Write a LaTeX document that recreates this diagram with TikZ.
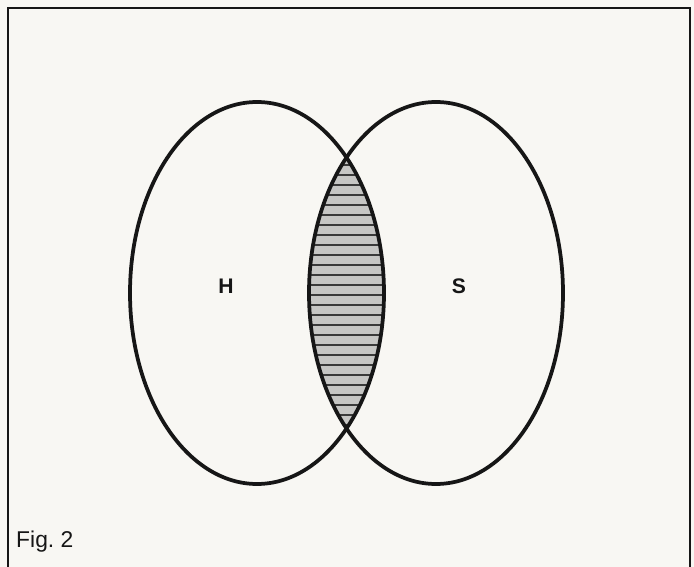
\documentclass[tikz,border=0pt]{standalone}
\usepackage{fontspec}
\setsansfont{Liberation Sans}
\usetikzlibrary{positioning}
\definecolor{paperTint}{HTML}{F8F7F3}
\definecolor{vennInk}{HTML}{161616}
\definecolor{lensFill}{HTML}{C6C6C4}
\definecolor{hatchInk}{HTML}{3A3A3A}
\tikzset{
  every node/.style={font=\sffamily, text=vennInk},
  setline/.style={draw=vennInk, line width=3.2pt},
  framing/.style={draw=vennInk, line width=1.7pt},
  setlabel/.style={font=\sffamily\bfseries\fontsize{18}{20}\selectfont},
  caption/.style={font=\sffamily\fontsize{19.5}{22}\selectfont, anchor=base west, inner sep=0pt},
  hatch/.style={draw=hatchInk, line width=0.9pt}
}

\begin{document}
\begin{tikzpicture}[x=0.03cm,y=-0.03cm]
  \useasboundingbox (0,0) rectangle (694,567);
  \fill[paperTint] (0,0) rectangle (694,567);
  \begin{scope}
    \clip (0,0) rectangle (694,567);
    \draw[framing] (8,8) rectangle (690,580);
  \end{scope}

  % shaded intersection
  \begin{scope}
    \clip (257,293) ellipse [x radius=127, y radius=191];
    \clip (436,293) ellipse [x radius=127, y radius=191];
    \fill[lensFill] (300,100) rectangle (400,480);
    \foreach \y in {165,175,...,425} {
      \draw[hatch] (300,\y) -- (400,\y);
    }
  \end{scope}

  \draw[setline] (257,293) ellipse [x radius=127, y radius=191];
  \draw[setline] (436,293) ellipse [x radius=127, y radius=191];

  \node[setlabel] (h) at (226,286) {H};
  \node[setlabel] (s) at (459,286) {S};
  \node[caption] (fig) at (16,547) {Fig.\ 2};
\end{tikzpicture}
\end{document}
